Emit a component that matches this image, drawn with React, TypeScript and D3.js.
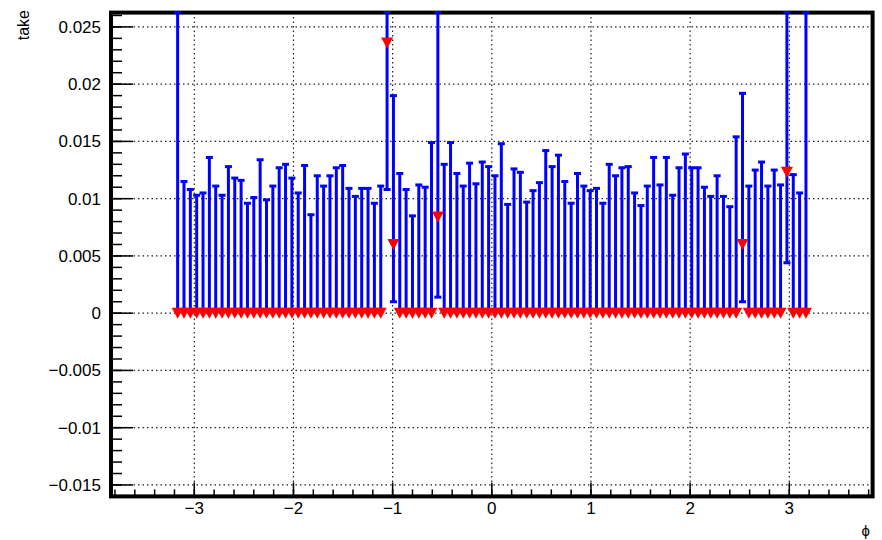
import React from "react";
import * as d3 from "d3";

// phi bins: 100 bins over [-3.2, 3.2]
const binLow = -3.2;
const binWidth = 0.064;

// upper end of each error bar ("take"), one per bin
const takeUpper = [
  0.032, 0.0115, 0.0108, 0.0103, 0.0105, 0.0136, 0.0111, 0.0103, 0.0128, 0.0118,
  0.0116, 0.0096, 0.0101, 0.0134, 0.0099, 0.0111, 0.0127, 0.013, 0.0118, 0.0105,
  0.0129, 0.0086, 0.012, 0.0111, 0.012, 0.0127, 0.0129, 0.0109, 0.0102, 0.0109,
  0.0109, 0.0096, 0.0111, 0.0364, 0.019, 0.0122, 0.0108, 0.0085, 0.0112, 0.011,
  0.0149, 0.03, 0.013, 0.0149, 0.0122, 0.0111, 0.0131, 0.0113, 0.0132, 0.0128,
  0.012, 0.0148, 0.0095, 0.0126, 0.0123, 0.0097, 0.0107, 0.0114, 0.0142, 0.0128,
  0.0138, 0.0115, 0.0096, 0.0122, 0.0111, 0.0107, 0.0109, 0.0096, 0.013, 0.012,
  0.0127, 0.0128, 0.0105, 0.0094, 0.0111, 0.0136, 0.0112, 0.0136, 0.0103, 0.0127,
  0.0139, 0.0127, 0.0127, 0.011, 0.0102, 0.012, 0.0102, 0.0093, 0.0154, 0.0192,
  0.0111, 0.0125, 0.0132, 0.0111, 0.0125, 0.0112, 0.03, 0.0121, 0.0105, 0.032,
];

// bins where the point is not at zero
const peakBins = [33, 34, 41, 89, 96];
const peakTake = [0.0236, 0.006, 0.0084, 0.006, 0.0123];
const peakLower = [0.0108, 0.001, 0.0014, 0.001, 0.0044];

const xTicks = [-3, -2, -1, 0, 1, 2, 3];
const yTicks = [-0.015, -0.01, -0.005, 0, 0.005, 0.01, 0.015, 0.02, 0.025];
const yTickLabels = ["\u22120.015", "\u22120.01", "\u22120.005", "0", "0.005", "0.01", "0.015", "0.02", "0.025"];

const W = 882;
const H = 540;
const left = 111;
const right = 872.6;
const top = 12.6;
const bottom = 496.4;

export default function App() {
  const x = d3.scaleLinear().domain([-3.84, 3.84]).range([left, right]);
  const y = d3.scaleLinear().domain([-0.016, 0.02625]).range([bottom, top]);
  const yMax = y.domain()[1];

  const points = takeUpper.map((up, i) => {
    const p = peakBins.indexOf(i);
    return {
      phi: binLow + binWidth * (i + 0.5),
      take: p >= 0 ? peakTake[p] : 0,
      lo: p >= 0 ? peakLower[p] : 0,
      hi: up,
    };
  });

  const xMinor = d3.range(-3.8, 3.81, 0.2);
  const yMinor = d3.range(-0.016, 0.0261, 0.001);
  const font = "'Liberation Sans', Arial, sans-serif";
  const cap = 3.5;
  const tri = (cx: number, cy: number) =>
    `M${cx - 6},${cy - 5.5}L${cx + 6},${cy - 5.5}L${cx},${cy + 5.5}Z`;

  return (
    <svg width={W} height={H} style={{ position: "fixed", left: 0, top: 0, background: "#fff" }}>
      {/* grid */}
      <g stroke="#222" strokeWidth={1.2} strokeDasharray="1.5,3">
        {xTicks.map((t) => (
          <line key={"gx" + t} x1={x(t)} x2={x(t)} y1={top} y2={bottom} />
        ))}
        {yTicks.map((t) => (
          <line key={"gy" + t} x1={left} x2={right} y1={y(t)} y2={y(t)} />
        ))}
      </g>

      {/* ticks */}
      <g stroke="#000" strokeWidth={1.5}>
        {yMinor.map((t, i) => (
          <line key={"ym" + i} x1={left} x2={left + 11} y1={y(t)} y2={y(t)} />
        ))}
        {yTicks.map((t) => (
          <line key={"yt" + t} x1={left} x2={left + 22} y1={y(t)} y2={y(t)} />
        ))}
        {xMinor.map((t, i) => (
          <line key={"xm" + i} x1={x(t)} x2={x(t)} y1={bottom} y2={bottom - 7} />
        ))}
        {xTicks.map((t) => (
          <line key={"xt" + t} x1={x(t)} x2={x(t)} y1={bottom} y2={bottom - 14} />
        ))}
      </g>

      {/* frame */}
      <rect x={left} y={top} width={right - left} height={bottom - top} fill="none" stroke="#000" strokeWidth={4} />

      {/* error bars */}
      <g stroke="#0000ff" strokeWidth={3}>
        {points.map((d, i) => {
          const hi = Math.min(d.hi, yMax);
          return (
            <g key={"e" + i}>
              <line x1={x(d.phi)} x2={x(d.phi)} y1={y(d.lo)} y2={y(hi)} />
              <line x1={x(d.phi) - cap} x2={x(d.phi) + cap} y1={y(hi)} y2={y(hi)} />
              {d.lo > 0 && (
                <line x1={x(d.phi) - cap} x2={x(d.phi) + cap} y1={y(d.lo)} y2={y(d.lo)} />
              )}
            </g>
          );
        })}
      </g>

      {/* markers */}
      <g fill="#ff0000">
        {points.map((d, i) => (
          <path key={"m" + i} d={tri(x(d.phi), y(d.take))} />
        ))}
      </g>

      {/* labels */}
      <g fontFamily={font} fontSize={17} fill="#000">
        {yTicks.map((t, i) => (
          <text key={"yl" + t} x={101} y={y(t)} dy="0.35em" textAnchor="end">
            {yTickLabels[i]}
          </text>
        ))}
        {xTicks.map((t) => (
          <text key={"xl" + t} x={x(t)} y={bottom + 18} textAnchor="middle">
            {t < 0 ? "\u2212" + Math.abs(t) : String(t)}
          </text>
        ))}
      </g>
      <text
        transform={`translate(29,10) rotate(-90)`}
        textAnchor="end"
        fontFamily={font}
        fontSize={16}
      >
        take
      </text>
      <text x={870} y={536} textAnchor="end" fontFamily={font} fontSize={15}>
        ϕ
      </text>
    </svg>
  );
}
